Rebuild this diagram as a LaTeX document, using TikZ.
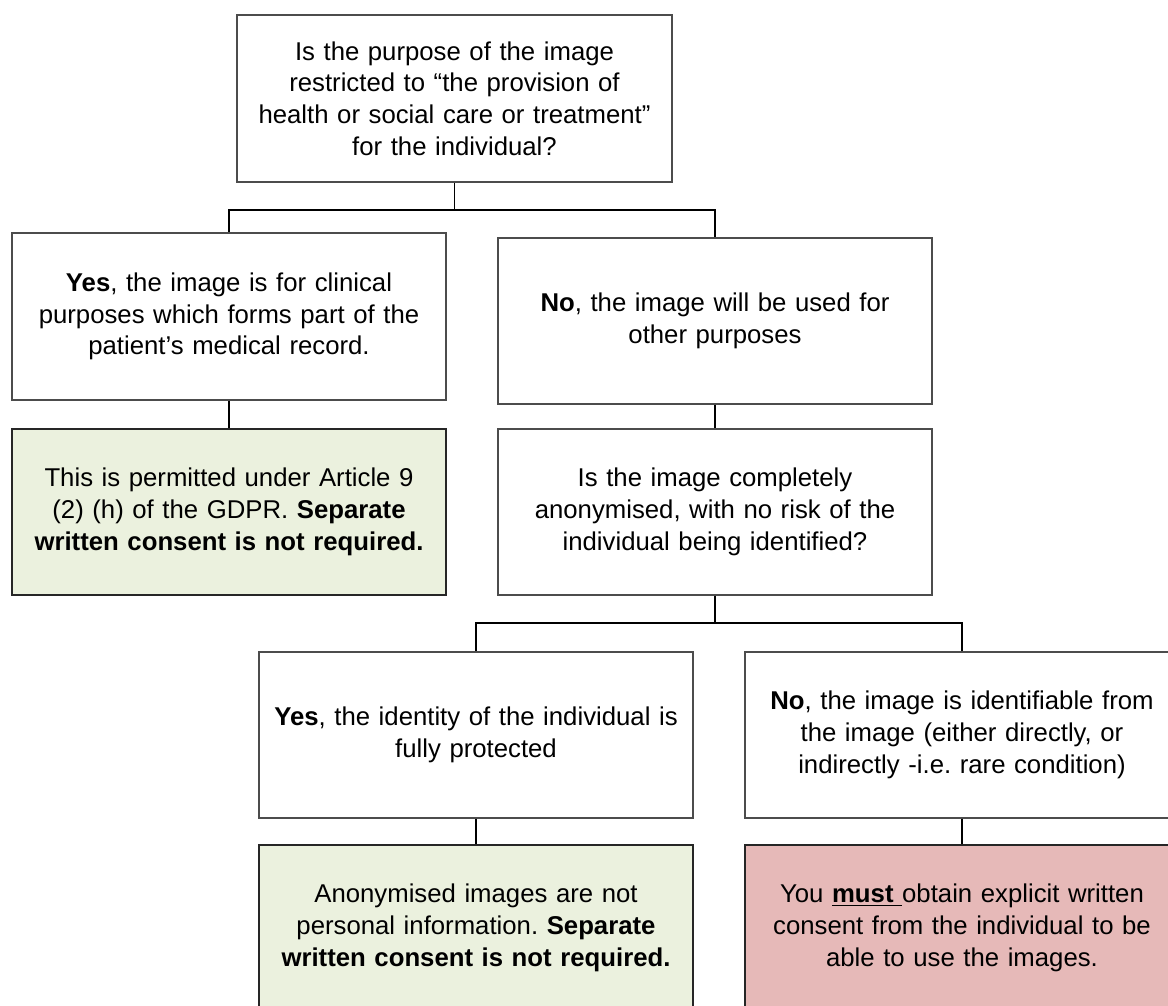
\documentclass[tikz,border=0pt]{standalone}
\usepackage{fontspec}
\setmainfont{Liberation Sans}
\frenchspacing
\definecolor{okgreen}{HTML}{EBF1DE}
\definecolor{nored}{HTML}{E6B9B8}
\tikzset{
  box/.style={draw=black!70, line width=0.9pt, fill=white, minimum width=325.5pt, minimum height=124.5pt,
    inner sep=0pt, text width=320pt, align=center,
    font=\fontsize{19.3}{23.8}\selectfont},
  greenbox/.style={box, fill=okgreen, draw=black!85},
  redbox/.style={box, fill=nored, draw=black!85},
  link/.style={draw=black, line width=1.3pt}
}
\begin{document}
\begin{tikzpicture}[x=0.75pt,y=-0.75pt]
\useasboundingbox (0,0) rectangle (1168,1006);
\clip (0,0) rectangle (1168,1006);
\fill[white] (0,0) rectangle (1168,1006);

\node[box, minimum width=326.25pt, minimum height=125.25pt] (q1) at (454.5,98.5)
  {Is the purpose of the image\\restricted to “the provision of\\health or social care or treatment”\\for the individual?};
\node[box, minimum height=125.25pt] (yes1) at (229,316.5)
  {\textbf{Yes}, the image is for clinical\\purposes which forms part of the\\patient’s medical record.};
\node[box] (no1) at (715,321)
  {\textbf{No}, the image will be used for\\other purposes};
\node[greenbox] (perm) at (229,512)
  {This is permitted under Article 9\\(2) (h) of the GDPR. \textbf{Separate}\\\textbf{written consent is not required.}};
\node[box] (q2) at (715,512)
  {Is the image completely\\anonymised, with no risk of the\\individual being identified?};
\node[box] (yes2) at (476,735)
  {\textbf{Yes}, the identity of the individual is\\fully protected};
\node[box] (no2) at (962,735)
  {\textbf{No}, the image is identifiable from\\the image (either directly, or\\indirectly -i.e. rare condition)};
\node[greenbox] (anon) at (476,928)
  {Anonymised images are not\\personal information. \textbf{Separate}\\\textbf{written consent is not required.}};
\node[redbox] (must) at (962,928)
  {You \underline{\textbf{must }}obtain explicit written\\consent from the individual to be\\able to use the images.};

\coordinate (j1) at (454.5,210);
\coordinate (j2) at (715,623);

\draw[link] (q1.south) -- (j1);
\draw[link] (j1) -| (yes1.north);
\draw[link] (j1) -| (no1.north);
\draw[link] (yes1.south) -- (perm.north);
\draw[link] (no1.south) -- (q2.north);
\draw[link] (q2.south) -- (j2);
\draw[link] (j2) -| (yes2.north);
\draw[link] (j2) -| (no2.north);
\draw[link] (yes2.south) -- (anon.north);
\draw[link] (no2.south) -- (must.north);
\end{tikzpicture}
\end{document}
